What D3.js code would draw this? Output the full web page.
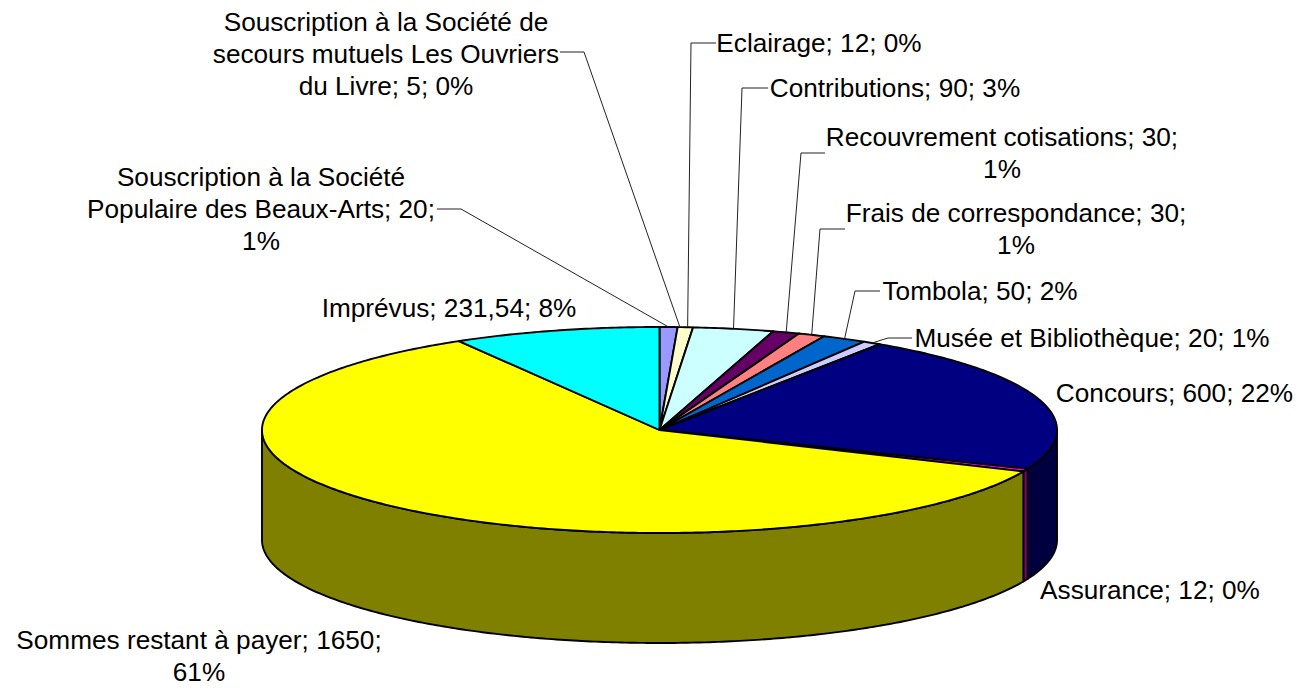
<!DOCTYPE html>
<html><head><meta charset="utf-8">
<script src="https://cdn.jsdelivr.net/npm/d3@7"></script>
<style>html,body{margin:0;padding:0;background:#fff}svg{display:block}text{font-family:"Liberation Sans",Arial,sans-serif;font-size:26.2px;fill:#000}</style>
</head><body><svg width="1299" height="688"></svg>
<script>
const categories=["Souscription à la Société Populaire des Beaux-Arts","Souscription à la Société de secours mutuels Les Ouvriers du Livre","Eclairage","Contributions","Recouvrement cotisations","Frais de correspondance","Tombola","Musée et Bibliothèque","Concours","Assurance","Sommes restant à payer","Imprévus"];
const values=[20,5,12,90,30,30,50,20,600,12,1650,231.54];
const valueLabels=["20","5","12","90","30","30","50","20","600","12","1650","231,54"];
const percents=["1%","0%","0%","3%","1%","1%","2%","1%","22%","0%","61%","8%"];
const topColors=["#9999ff","#ffffcc","#ffffcc","#ccffff","#660066","#ff8080","#0066cc","#ccccff","#000080","#ff00ff","#ffff00","#00ffff"];
const sideColors=["#4d4d80","#808066","#808066","#668080","#330033","#804040","#003366","#666680","#000040","#800080","#808000","#008080"];
// label layout: line breaks, anchor centre x, first baseline, leader elbow points
const labelBreaks=[
 ["Souscription à la Société","Populaire des Beaux-Arts; 20;","1%"],
 ["Souscription à la Société de","secours mutuels Les Ouvriers","du Livre; 5; 0%"],
 ["Eclairage; 12; 0%"],["Contributions; 90; 3%"],
 ["Recouvrement cotisations; 30;","1%"],["Frais de correspondance; 30;","1%"],
 ["Tombola; 50; 2%"],["Musée et Bibliothèque; 20; 1%"],["Concours; 600; 22%"],["Assurance; 12; 0%"],
 ["Sommes restant à payer; 1650;","61%"],["Imprévus; 231,54; 8%"]];
const labelX=[261,386,819,895,1002,1016,980,1092,1174.5,1150,199,449];
const labelY=[186,31,52,97,146,222,300,347,402,599,649,317];
const leaders=[[[437,209],[461,209]],[[560,52],[584,52]],[[716,43],[691,43]],[[768,88],[742,88]],[[825,153],[801,153]],[[845,229],[820,229]],[[880,291],[855,291]],[[912,338],[888,338]],null,null,null,null];
const cx=659.5,cy=430,rx=397.5,ry=103,depth=110,lineH=31.8;

const svg=d3.select("svg");
const arcs=d3.pie().sort(null).value(d=>d)(values);
const px=d3.scaleLinear().domain([-1,1]).range([cx-rx,cx+rx]);
const py=d3.scaleLinear().domain([-1,1]).range([cy-ry,cy+ry]);
const pt=(a,dz=0)=>[px(Math.sin(a)),py(-Math.cos(a))+dz];
const arcPts=(a0,a1,dz=0)=>{const n=Math.max(2,Math.ceil((a1-a0)*90));return d3.range(n+1).map(i=>pt(a0+(a1-a0)*i/n,dz));};
const line=d3.line();
const mark=(pts,fill)=>svg.append("path").attr("d",line(pts)+"Z").attr("fill",fill).attr("stroke","#000").attr("stroke-width",1.9).attr("stroke-linejoin","round");

// front walls
arcs.forEach((d,i)=>{
  const a0=Math.max(d.startAngle,Math.PI/2),a1=Math.min(d.endAngle,3*Math.PI/2);
  if(a1<=a0)return;
  mark(arcPts(a0,a1).concat(arcPts(a0,a1,depth).reverse()),sideColors[i]);
});
// top faces: neighbouring slices of one colour read as a single wedge in the picture
const runs=[];
arcs.forEach((d,i)=>{
  const last=runs[runs.length-1];
  if(last&&last.color===topColors[i])last.end=d.endAngle;
  else runs.push({start:d.startAngle,end:d.endAngle,color:topColors[i]});
});
runs.forEach(r=>mark([[cx,cy]].concat(arcPts(r.start,r.end)),r.color));
// leaders
arcs.forEach((d,i)=>{
  if(!leaders[i])return;
  const mid=(d.startAngle+d.endAngle)/2;
  svg.append("path").attr("d",line(leaders[i].concat([pt(mid)]))).attr("fill","none").attr("stroke","#222").attr("stroke-width",1);
});
// labels
labelBreaks.forEach((lines,i)=>{
  const t=svg.append("text").attr("text-anchor","middle");
  lines.forEach((s,j)=>t.append("tspan").attr("x",labelX[i]).attr("y",labelY[i]+j*lineH).text(s));
});
</script></body></html>
